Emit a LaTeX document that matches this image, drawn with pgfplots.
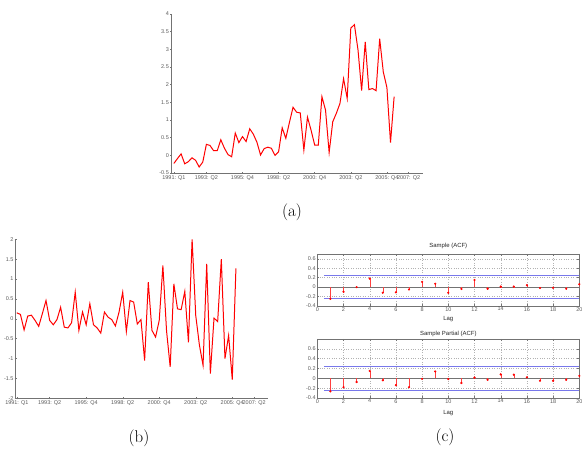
\documentclass[border=0pt]{standalone}
\usepackage{fontspec}
\usepackage{pgfplots}
\pgfplotsset{compat=1.18}
\newfontfamily\mlfont{Liberation Sans}
\definecolor{axgray}{gray}{0.45}
\definecolor{lblgray}{gray}{0.35}
\definecolor{ciblue}{RGB}{120,120,235}

% quarterly series: level and first difference
\pgfplotstableread{
idx val
0 -0.23
1 -0.09
2 0.04
3 -0.24
4 -0.18
5 -0.07
6 -0.14
7 -0.33
8 -0.19
9 0.31
10 0.28
11 0.13
12 0.13
13 0.44
14 0.20
15 0.02
16 -0.04
17 0.63
18 0.36
19 0.53
20 0.39
21 0.75
22 0.60
23 0.37
24 0.01
25 0.19
26 0.23
27 0.20
28 0.00
29 0.10
30 0.78
31 0.48
32 0.93
33 1.36
34 1.22
35 1.20
36 0.15
37 1.08
38 0.71
39 0.29
40 0.29
41 1.66
42 1.28
43 0.08
44 0.95
45 1.19
46 1.47
47 2.17
48 1.61
49 3.60
50 3.70
51 2.98
52 1.83
53 3.21
54 1.86
55 1.89
56 1.83
57 3.30
58 2.36
59 1.92
60 0.36
61 1.66
}\levels

\pgfplotstableread{
idx val
0 0.15
1 0.11
2 -0.28
3 0.07
4 0.09
5 -0.04
6 -0.19
7 0.13
8 0.46
9 -0.04
10 -0.15
11 -0.02
12 0.29
13 -0.21
14 -0.23
15 -0.10
16 0.67
17 -0.29
18 0.17
19 -0.15
20 0.38
21 -0.15
22 -0.23
23 -0.36
24 0.17
25 0.04
26 -0.02
27 -0.18
28 0.17
29 0.67
30 -0.32
31 0.46
32 0.42
33 -0.13
34 -0.02
35 -1.05
36 0.92
37 -0.29
38 -0.46
39 -0.04
40 1.34
41 -0.30
42 -1.21
43 0.88
44 0.25
45 0.23
46 0.69
47 -0.59
48 2.00
49 0.08
50 -0.66
51 -1.17
52 1.38
53 -1.38
54 0.02
55 -0.07
56 1.50
57 -1.00
58 -0.42
59 -1.53
60 1.27
}\diffs

\pgfplotstableread{
lag val
1 -0.25
2 -0.10
3 0.00
4 0.18
5 -0.12
6 -0.11
7 -0.05
8 0.11
9 0.07
10 -0.12
11 -0.04
12 0.15
13 -0.035
14 0.01
15 0.01
16 0.04
17 -0.02
18 -0.015
19 -0.035
20 0.06
}\acf

\pgfplotstableread{
lag val
1 -0.265
2 -0.18
3 -0.075
4 0.15
5 -0.04
6 -0.14
7 -0.18
8 -0.01
9 0.14
10 -0.015
11 -0.095
12 0.015
13 -0.03
14 0.08
15 0.075
16 0.02
17 -0.05
18 -0.05
19 -0.03
20 0.05
}\pacf

\pgfplotsset{
  mlbase/.style={
    scale only axis,
    tick align=inside, major tick length=2bp,
    tick style={axgray, line width=0.4pt},
    axis line style={axgray, line width=0.5pt},
    ticklabel style={font=\mlfont\fontsize{5.5}{6}\selectfont, text=lblgray},
    /pgf/number format/assume math mode=true,
  },
  mlts/.style={
    mlbase,
    width=252bp, height=159bp,
    axis x line=bottom, axis y line=left,
    axis line style={-},
    xtick={0,9,19,29,39,49,59,65},
    xticklabels={1991: Q1,1993: Q2,1995: Q4,1998: Q2,2000: Q4,2003: Q2,2005: Q4,2007: Q2},
    xticklabel style={inner sep=1pt},
    yticklabel style={inner sep=1pt},
  },
  mlcorr/.style={
    mlbase,
    width=262bp,
    xmin=0, xmax=20, xtick={0,2,4,6,8,10,12,14,16,18,20},
    ytick={-0.4,-0.2,0,0.2,0.4,0.6},
    yticklabels={-0.4,-0.2,0,0.2,0.4,0.6},
    grid=major, major grid style={dotted, gray!60, line width=0.4pt},
    xticklabel style={inner sep=1pt},
    yticklabel style={inner sep=1.5pt},
  },
}
\tikzset{
  corrtext/.style={font=\mlfont\fontsize{6}{7}\selectfont, text=black!85, inner sep=0pt, anchor=center},
}

\begin{document}
\begin{tikzpicture}[x=1bp,y=1bp]
\path[use as bounding box] (0,0) rectangle (582,455);

% (a) level series
\begin{axis}[mlts, at={(171bp,282bp)}, anchor=south west,
  xmin=-0.8, xmax=69, ymin=-0.5, ymax=4,
  ytick={-0.5,0,0.5,1,1.5,2,2.5,3,3.5,4},
  yticklabels={-0.5,0,0.5,1,1.5,2,2.5,3,3.5,4}]
  \addplot[red, line width=1pt] table[x=idx, y=val] {\levels};
\end{axis}
\node[font=\fontsize{17}{20}\selectfont] at (292,243) {(a)};

% (b) differenced series
\begin{axis}[mlts, at={(15.7bp,56.7bp)}, anchor=south west,
  xmin=-0.3, xmax=68.7, ymin=-2, ymax=2,
  ytick={-2,-1.5,-1,-0.5,0,0.5,1,1.5,2},
  yticklabels={-2,-1.5,-1,-0.5,0,0.5,1,1.5,2}]
  \addplot[red, line width=1pt] table[x=idx, y=val] {\diffs};
\end{axis}
\node[font=\fontsize{17}{20}\selectfont] at (139,17) {(b)};

% (c) sample autocorrelations
\begin{axis}[mlcorr, at={(317.3bp,149bp)}, anchor=south west,
  height=52bp, ymin=-0.4, ymax=0.7, xlabel={Lag},
  every axis x label/.style={font=\mlfont\fontsize{6}{7}\selectfont, text=black!85,
    at={(axis description cs:0.5,0)}, anchor=north, inner sep=0pt, yshift=-10bp}]
  \addplot[black!55, line width=0.5pt] coordinates {(0,0) (20,0)};
  \addplot[ciblue, line width=0.9pt] coordinates {(0.5,0.245) (20,0.245)};
  \addplot[ciblue, line width=0.9pt] coordinates {(0.5,-0.245) (20,-0.245)};
  \addplot[ycomb, red!75, line width=0.4pt, mark=*,
    mark options={fill=red, draw=red}, mark size=0.9bp] table[x=lag, y=val] {\acf};
\end{axis}

\begin{axis}[mlcorr, at={(317.3bp,57bp)}, anchor=south west,
  height=59bp, ymin=-0.4, ymax=0.8]
  \addplot[black!55, line width=0.5pt] coordinates {(0,0) (20,0)};
  \addplot[ciblue, line width=0.9pt] coordinates {(0.5,0.245) (20,0.245)};
  \addplot[ciblue, line width=0.9pt] coordinates {(0.5,-0.245) (20,-0.245)};
  \addplot[ycomb, red!75, line width=0.4pt, mark=*,
    mark options={fill=red, draw=red}, mark size=0.9bp] table[x=lag, y=val] {\pacf};
\end{axis}

% titles and lag label of the correlogram panels
\node[corrtext] at (448.3,209) {Sample (ACF)};
\node[corrtext] at (448.3,121) {Sample Partial (ACF)};
\node[corrtext] at (448.3,41.5) {Lag};
\node[font=\fontsize{17}{20}\selectfont] at (445,18) {(c)};
\end{tikzpicture}
\end{document}
